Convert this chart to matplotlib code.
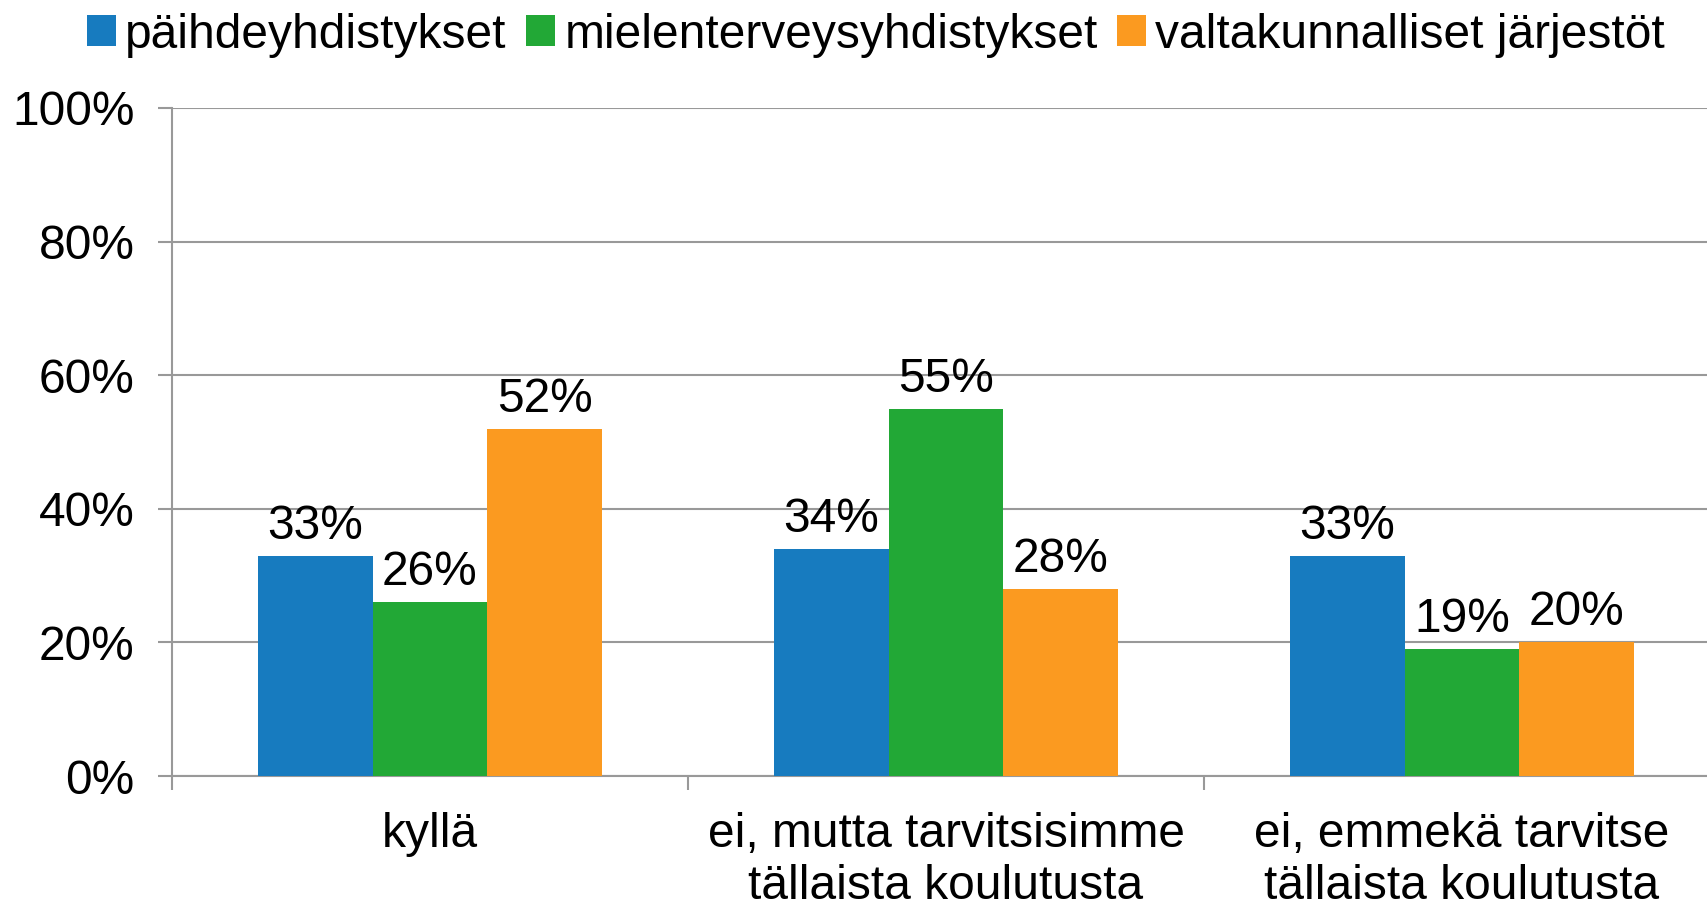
import matplotlib.pyplot as plt
import numpy as np

categories = ['kyllä', 'ei, mutta tarvitsisimme\ntällaista koulutusta', 'ei, emmekä tarvitse\ntällaista koulutusta']
series = ['päihdeyhdistykset', 'mielenterveysyhdistykset', 'valtakunnalliset järjestöt']
paihde = [33, 34, 33]
mielenterveys = [26, 55, 19]
valtakunnalliset = [52, 28, 20]
colors = ['#177BBF', '#22A836', '#FB9A20']
yticks = [0, 20, 40, 60, 80, 100]

plt.rcParams['font.family'] = ['Liberation Sans', 'DejaVu Sans']
FS = 34.5

W, H = 1707, 908
fig = plt.figure(figsize=(W / 100, H / 100), dpi=100)
# akselit hieman kuvan oikean reunan yli, kuten alkuperäisessä
ax = fig.add_axes([172 / W, (H - 776) / H, (1720 - 172) / W, (776 - 108) / H])

x = np.arange(len(categories))
width = 0.222
for i, (name, vals) in enumerate(zip(series, [paihde, mielenterveys, valtakunnalliset])):
    pos = x + (i - 1) * width
    bars = ax.bar(pos, vals, width, color=colors[i], label=name, zorder=3)
    for b, v in zip(bars, vals):
        ax.annotate(f'{v}%', (b.get_x() + b.get_width() / 2, v), xytext=(0, 5),
                    textcoords='offset points', ha='center', va='bottom', fontsize=FS)

ax.set_xlim(-0.5, 2.5)
ax.set_ylim(0, 100)
ax.set_yticks(yticks)
ax.set_yticklabels([f'{t}%' for t in yticks])
ax.yaxis.grid(True, color='#999999', linewidth=1.5, zorder=0)

ax.set_xticks([-0.5, 0.5, 1.5, 2.5])
ax.set_xticklabels([])
ax.set_xticks(x, minor=True)
ax.set_xticklabels(categories, minor=True, fontsize=FS)
ax.tick_params(axis='x', which='minor', length=0, pad=26)
ax.tick_params(axis='x', which='major', length=10, width=1.5, color='#999999')
ax.tick_params(axis='y', length=10, width=1.5, color='#999999', labelsize=FS, pad=17)

for s in ['top', 'right']:
    ax.spines[s].set_visible(False)
for s in ['left', 'bottom']:
    ax.spines[s].set_color('#999999')
    ax.spines[s].set_linewidth(1.5)

fig.legend(loc='center', bbox_to_anchor=(876 / W, 1 - 35 / H), ncol=3, frameon=False,
           fontsize=FS, handlelength=0.6, handleheight=0.6, handletextpad=0.2,
           columnspacing=0.4, borderaxespad=0)

fig.savefig('out.png', dpi=100)
